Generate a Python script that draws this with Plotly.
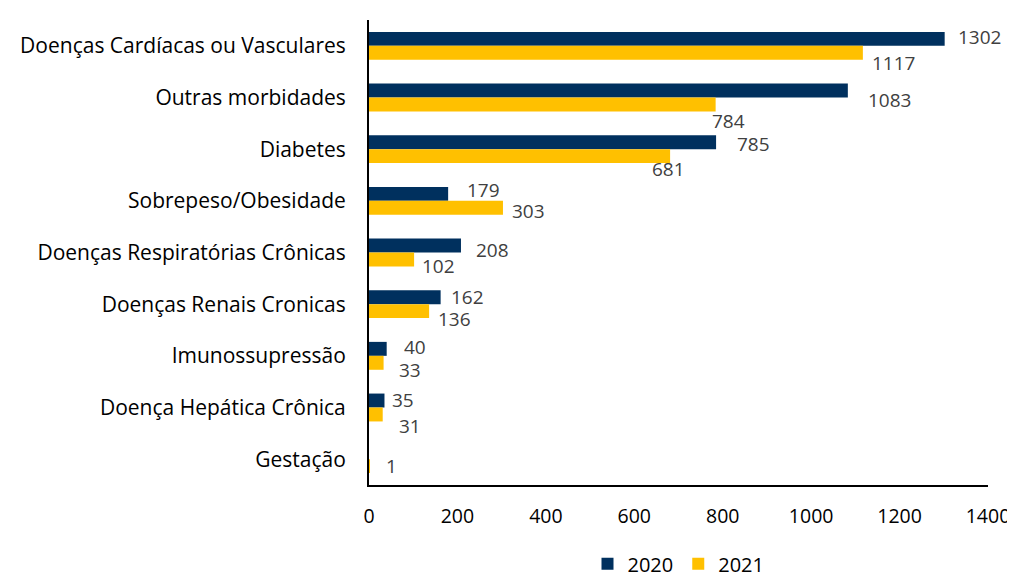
import plotly.graph_objects as go

categories = [
    "Doenças Cardíacas ou Vasculares",
    "Outras morbidades",
    "Diabetes",
    "Sobrepeso/Obesidade",
    "Doenças Respiratórias Crônicas",
    "Doenças Renais Cronicas",
    "Imunossupressão",
    "Doença Hepática Crônica",
    "Gestação",
]
values_2020 = [1302, 1083, 785, 179, 208, 162, 40, 35, 0]
values_2021 = [1117, 784, 681, 303, 102, 136, 33, 31, 1]
x_ticks = [0, 200, 400, 600, 800, 1000, 1200, 1400]

# label offsets (styling only, pixels)
dx_2020 = [11, 18, 19, 17, 13, 8, 15, 6, 0]
dy_2020 = [2, -9, -2, 4, -4, 0, 2, 1, 0]
dx_2021 = [7, -6, -20, 7, 6, 7, 13, 14, 15]
dy_2021 = [-10, -17, -13, -3, -7, -8, -7, -12, 0]

NAVY = "#00305E"
GOLD = "#FFC000"
FONT = "Open Sans"

# page body has an 8px default margin -> compensate
fig = go.Figure()
fig.add_trace(go.Bar(name="2020", y=categories, x=values_2020, orientation="h",
                     marker=dict(color=NAVY, line=dict(width=0))))
fig.add_trace(go.Bar(name="2021", y=categories, x=values_2021, orientation="h",
                     marker=dict(color=GOLD, line=dict(width=0))))

annotations = []
for i, cat in enumerate(categories):
    for vals, dx, dy, off in ((values_2020, dx_2020, dy_2020, -0.135),
                              (values_2021, dx_2021, dy_2021, 0.135)):
        v = vals[i]
        if v == 0:
            continue
        annotations.append(dict(
            x=v, y=i + off, xref="x", yref="y", text=str(v), showarrow=False,
            xanchor="left", yanchor="middle", xshift=dx[i], yshift=dy[i],
            font=dict(family=FONT, size=19, color="#404040")))

fig.update_layout(
    width=1007, height=573,
    paper_bgcolor="white", plot_bgcolor="white",
    margin=dict(l=361, r=27, t=12, b=96, autoexpand=False),
    barmode="group", bargap=0.46, bargroupgap=0,
    font=dict(family=FONT, size=20, color="#000000"),
    showlegend=True,
    legend=dict(orientation="h", x=0.5, xanchor="center",
                yref="container", y=0.03, yanchor="middle",
                font=dict(family=FONT, size=20, color="#000000"),
                itemwidth=30, traceorder="normal"),
    annotations=annotations,
)
fig.update_xaxes(range=[0, 1400], tickvals=x_ticks, showgrid=False, zeroline=False,
                 showline=True, linecolor="#000000", linewidth=2,
                 ticks="", ticklabelstandoff=13, automargin=False,
                 tickfont=dict(family=FONT, size=19.5, color="#000000"))
fig.update_yaxes(autorange="reversed", showgrid=False, zeroline=False,
                 showline=True, linecolor="#000000", linewidth=2,
                 ticks="", ticklabelstandoff=17, automargin=False,
                 tickfont=dict(family=FONT, size=21, color="#000000"))

fig.write_html("out.html")
